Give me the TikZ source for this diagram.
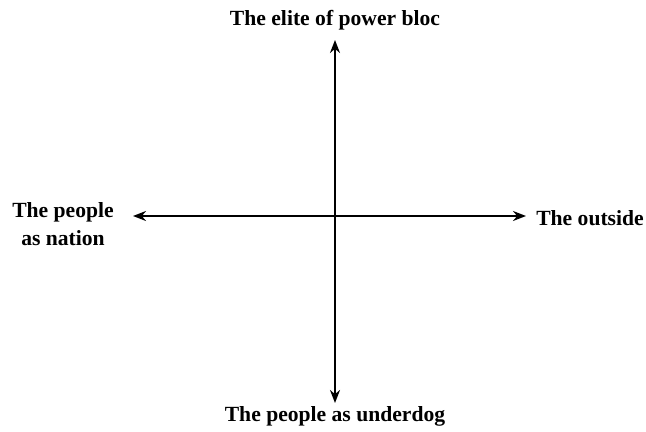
\documentclass[tikz,border=0pt]{standalone}
\usepackage{fontspec}
\setmainfont{Liberation Serif}
\usetikzlibrary{arrows.meta,positioning}

\begin{document}
\begin{tikzpicture}[
  x=0.02cm, y=-0.02cm,
  pole/.style={font=\fontsize{12.3}{15.5}\selectfont\bfseries, align=center, inner sep=0pt},
  axis/.style={{Stealth[length=2.6mm,width=2mm]}-{Stealth[length=2.6mm,width=2mm]}, line width=1.2pt}
]
  \useasboundingbox (0,0) rectangle (646,432);

  \coordinate (top) at (335,40);
  \coordinate (bottom) at (335,403);
  \coordinate (left) at (133,216);
  \coordinate (right) at (526,216);

  \node[pole] (elite) at (335,20) {The elite of power bloc};
  \node[pole] (underdog) at (335,416) {The people as underdog};
  \node[pole] (nation) at (63,224) {The people\\as nation};
  \node[pole] (outside) at (590,218) {The outside};

  \draw[axis] (top) -- (bottom);
  \draw[axis] (left) -- (right);
\end{tikzpicture}
\end{document}
